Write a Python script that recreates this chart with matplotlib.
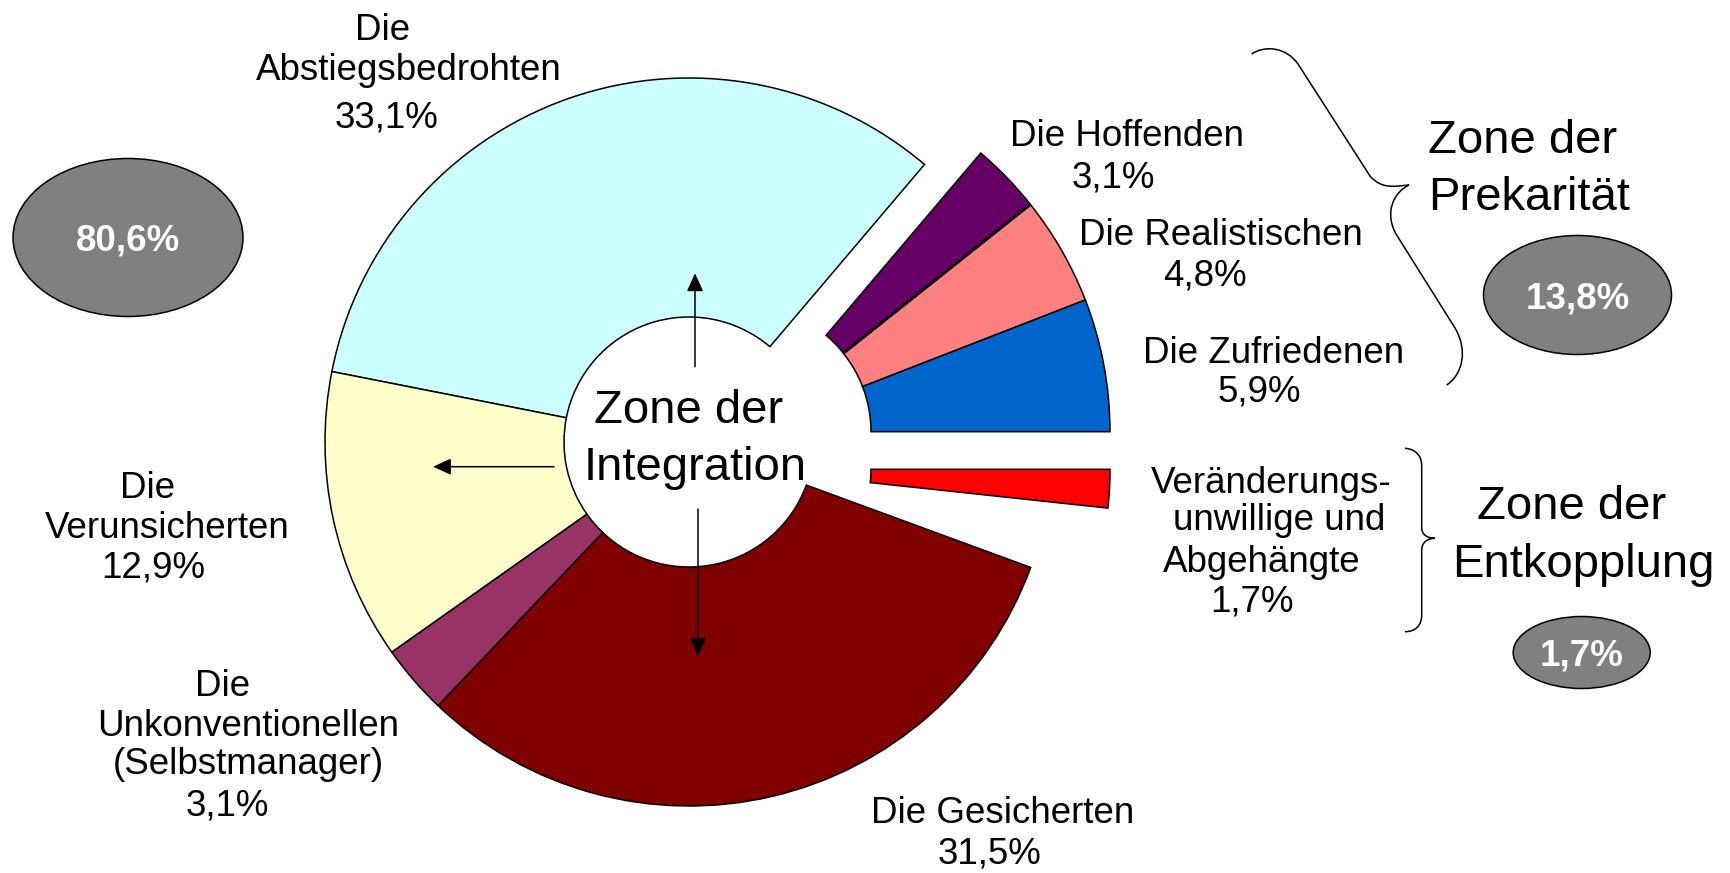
import matplotlib
matplotlib.use("Agg")
import matplotlib.pyplot as plt
from matplotlib.patches import Ellipse, PathPatch
from matplotlib.path import Path

plt.rcParams['font.family'] = ['Liberation Sans', 'DejaVu Sans']

# ---------------- data ----------------
segments = ["Die Zufriedenen", "Die Realistischen", "Die Hoffenden",
            "Die Abstiegsbedrohten", "Die Verunsicherten",
            "Die Unkonventionellen (Selbstmanager)", "Die Gesicherten",
            "ohne Zuordnung", "Veränderungsunwillige und Abgehängte"]
shares = [5.9, 4.8, 3.1, 33.1, 12.9, 3.1, 31.5, 3.9, 1.7]
colors = ["#0066CC", "#FF8080", "#660066", "#CCFFFF", "#FFFFCC",
          "#993366", "#800000", "none", "#FF0000"]
label_names = [["Die Zufriedenen"], ["Die Realistischen"], ["Die Hoffenden"],
               ["Die", "Abstiegsbedrohten"], ["Die", "Verunsicherten"],
               ["Die", "Unkonventionellen", "(Selbstmanager)"],
               ["Die Gesicherten"], [],
               ["Veränderungs-", "unwillige und", "Abgehängte"]]
zone_names = [["Zone der", "Integration"], ["Zone der", "Prekarität"],
              ["Zone der", "Entkopplung"]]
zone_totals = [80.6, 13.8, 1.7]


def fmt(v):
    return f"{v:.1f}".replace(".", ",") + "%"


# ---------------- layout (pixel coords, y from top) ----------------
W, H = 1731, 873


def Y(y):
    return H - y


label_pos = [
    [(1274, 363), (1259, 402)],
    [(1221, 245), (1205, 285)],
    [(1127, 146), (1113, 187)],
    [(383, 40), (409, 80), (387, 127)],
    [(148, 498), (167, 538), (153, 578)],
    [(223, 696), (248, 736), (248, 774), (227, 815)],
    [(1003, 823), (990, 863)],
    [],
    [(1271, 493), (1279, 530), (1262, 572), (1252, 612)],
]
zone_pos = [[(689, 423), (695, 480)], [(1523, 153), (1529, 210)],
            [(1572, 519), (1583, 577)]]
zone_ell = [(128, 237.5, 230, 158), (1577.5, 295, 188, 119),
            (1581.7, 652.5, 137, 72)]

center = (689, Y(442))
R_out, R_in = 364, 125
moved = {0: (746, Y(431.7)), 1: (746, Y(431.7)), 2: (745.2, Y(430.6)),
         8: (746, Y(469.3))}

fig = plt.figure(figsize=(W / 100, H / 100), dpi=100)
ax = fig.add_axes([0, 0, 1, 1])

wedges, _ = ax.pie(shares, colors=colors, startangle=0, counterclock=True,
                   radius=R_out, center=center, frame=False,
                   wedgeprops=dict(width=R_out - R_in, edgecolor="black",
                                   linewidth=1.1))
for i, w in enumerate(wedges):
    if colors[i] == "none":
        w.set_visible(False)
    if i in moved:
        w.set_center(moved[i])

ax.set_xlim(0, W)
ax.set_ylim(0, H)
ax.set_aspect("auto")
ax.axis("off")

LBL = 26.5
for i, names in enumerate(label_names):
    if not names:
        continue
    lines = names + [fmt(shares[i])]
    for txt, (x, yb) in zip(lines, label_pos[i]):
        ax.text(x, Y(yb), txt, ha="center", va="baseline", fontsize=LBL,
                color="black")

for names, pos in zip(zone_names, zone_pos):
    for txt, (x, yb) in zip(names, pos):
        ax.text(x, Y(yb), txt, ha="center", va="baseline", fontsize=34,
                color="black")

for tot, (cx, cy, ew, eh) in zip(zone_totals, zone_ell):
    ax.add_patch(Ellipse((cx, Y(cy)), ew, eh, facecolor="#808080",
                         edgecolor="black", linewidth=1.1))
    ax.text(cx, Y(cy + 13), fmt(tot), ha="center", va="baseline",
            fontsize=LBL, fontweight="bold", color="white")

# arrows in the centre
arrow_kw = dict(arrowstyle="-|>,head_length=0.55,head_width=0.25",
                mutation_scale=20, color="black", lw=1.1,
                shrinkA=0, shrinkB=0)
for (x0, y0), (x1, y1) in [((695, 366.7), (695, 273.3)),
                           ((554, 466.7), (433, 466.7)),
                           ((698, 509), (698, 656))]:
    ax.annotate("", xy=(x1, Y(y1)), xytext=(x0, Y(y0)), arrowprops=arrow_kw)


# braces
def brace(pts_codes):
    verts = [(x, Y(y)) for (x, y), _ in pts_codes]
    codes = [c for _, c in pts_codes]
    ax.add_patch(PathPatch(Path(verts, codes), facecolor="none",
                           edgecolor="black", linewidth=1.1))


M, L, C = Path.MOVETO, Path.LINETO, Path.CURVE4
brace([((1251.7, 54), M),
       ((1265, 45), C), ((1286, 47), C), ((1298, 64), C),
       ((1370, 176), L),
       ((1382, 190), C), ((1396, 186), C), ((1409, 185), C),
       ((1394, 192), C), ((1384, 212), C), ((1396, 234), C),
       ((1455, 328), L),
       ((1468, 350), C), ((1463, 374), C), ((1446.7, 385), C)])
brace([((1405, 448.3), M),
       ((1415, 449), C), ((1421.7, 455), C), ((1421.7, 466), C),
       ((1421.7, 528), L),
       ((1421.7, 535), C), ((1428, 538.3), C), ((1435, 538.3), C),
       ((1428, 538.3), C), ((1421.7, 542), C), ((1421.7, 550), C),
       ((1421.7, 615), L),
       ((1421.7, 626), C), ((1415, 631.7), C), ((1405, 631.7), C)])

fig.savefig("out.png", dpi=100)
